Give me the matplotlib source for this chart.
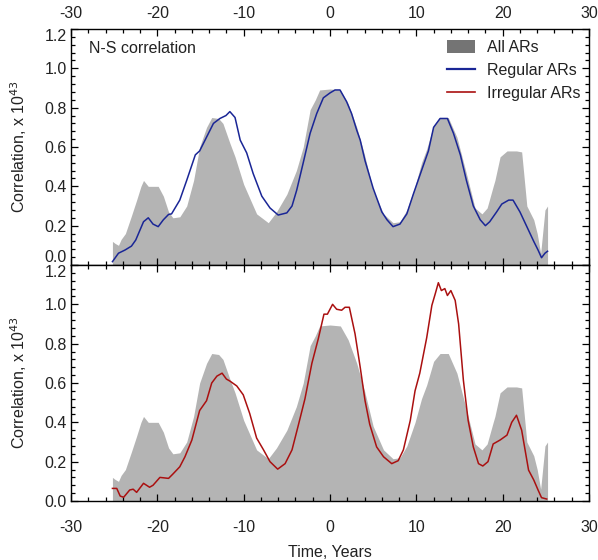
import numpy as np
import matplotlib
matplotlib.use("Agg")
import matplotlib.pyplot as plt
from matplotlib.patches import Patch
from matplotlib.lines import Line2D
from matplotlib.ticker import MultipleLocator, FormatStrFormatter

plt.rcParams['font.family'] = ['Liberation Sans', 'DejaVu Sans']
plt.rcParams['axes.unicode_minus'] = False

# All ARs (gray fill)
all_t = [-25.2, -24.9, -24.5, -24.2, -23.7, -23.0, -22.4, -21.9, -21.6, -21.05, -20.5, -19.9,
         -19.3, -18.7, -18.2, -17.4, -16.6, -15.8, -15.1, -14.3, -13.7, -12.9, -12.4, -11.6,
         -11.0, -10.0, -8.5, -7.15, -6.2, -5.0, -3.9, -3.1, -2.3, -1.7, -1.2, 0.0, 1.2, 2.1,
         3.1, 4.0, 5.0, 6.2, 7.3, 8.1, 8.9, 9.85, 10.6, 11.2, 12.0, 12.75, 13.7, 14.7, 15.8,
         16.8, 17.6, 18.2, 18.9, 19.1, 19.7, 20.5, 21.6, 22.2, 22.8, 23.6, 24.0, 24.4, 24.9, 25.2]
all_v = [0.12, 0.11, 0.10, 0.13, 0.16, 0.25, 0.33, 0.40, 0.43, 0.40, 0.40, 0.40,
         0.35, 0.27, 0.24, 0.245, 0.30, 0.43, 0.60, 0.70, 0.75, 0.745, 0.72, 0.62,
         0.55, 0.41, 0.26, 0.215, 0.27, 0.36, 0.48, 0.60, 0.79, 0.84, 0.89, 0.895, 0.89, 0.82,
         0.70, 0.56, 0.38, 0.26, 0.215, 0.22, 0.28, 0.40, 0.52, 0.59, 0.71, 0.75, 0.75, 0.65, 0.465,
         0.29, 0.26, 0.29, 0.40, 0.43, 0.55, 0.58, 0.58, 0.575, 0.30, 0.23, 0.16, 0.06, 0.28, 0.30]

# Regular ARs (blue)
reg_t = [-25.2, -24.5, -23.75, -23.0, -22.5, -21.6, -21.05, -20.5, -19.9, -19.3, -18.7, -18.35,
         -17.4, -16.6, -15.6, -15.1, -14.3, -13.5, -12.75, -12.05, -11.6, -11.0, -10.4, -9.65,
         -8.9, -7.9, -6.95, -6.0, -5.0, -4.4, -3.86, -3.1, -2.3, -1.54, -0.77, 0.0, 0.58, 1.16,
         1.93, 2.5, 3.1, 3.5, 4.06, 5.0, 6.0, 6.6, 7.3, 8.1, 8.9, 9.65, 10.6, 11.4, 12.0, 12.75,
         13.6, 14.3, 15.1, 15.8, 16.6, 17.4, 18.0, 18.5, 19.3, 19.9, 20.7, 21.2, 22.0, 22.8,
         23.6, 24.1, 24.5, 24.9, 25.2]
reg_v = [0.017, 0.06, 0.076, 0.096, 0.127, 0.22, 0.24, 0.208, 0.195, 0.23, 0.257, 0.26,
         0.33, 0.43, 0.56, 0.58, 0.65, 0.72, 0.745, 0.76, 0.78, 0.75, 0.635, 0.57,
         0.465, 0.35, 0.29, 0.254, 0.265, 0.30, 0.38, 0.52, 0.67, 0.77, 0.85, 0.875, 0.89, 0.89,
         0.83, 0.77, 0.685, 0.635, 0.53, 0.39, 0.27, 0.23, 0.195, 0.208, 0.26, 0.36, 0.48, 0.58, 0.70, 0.745,
         0.745, 0.67, 0.56, 0.43, 0.30, 0.23, 0.20, 0.22, 0.27, 0.31, 0.33, 0.33, 0.27, 0.195,
         0.12, 0.076, 0.037, 0.06, 0.07]

# Irregular ARs (red)
irr_t = [-25.2, -24.7, -24.3, -23.9, -23.2, -22.8, -22.4, -21.6, -20.9, -20.5, -19.7, -18.7,
         -18.2, -17.4, -16.8, -16.0, -15.1, -14.3, -13.7, -13.1, -12.5, -12.0, -11.6, -10.8,
         -10.05, -9.3, -8.5, -7.7, -6.95, -6.06, -5.2, -4.4, -3.67, -2.9, -2.1, -1.35, -0.7,
         -0.3, 0.3, 0.77, 1.35, 1.74, 2.24, 2.9, 3.5, 4.06, 4.6, 5.4, 6.2, 7.15, 7.9, 8.5, 9.3,
         9.85, 10.4, 11.2, 11.8, 12.2, 12.55, 12.9, 13.3, 13.6, 14.0, 14.5, 14.9, 15.45, 16.0,
         16.6, 17.2, 17.7, 18.3, 18.9, 19.7, 20.5, 21.05, 21.6, 22.2, 23.0, 23.6, 24.1, 24.5, 25.1]
irr_v = [0.064, 0.064, 0.025, 0.019, 0.056, 0.06, 0.044, 0.09, 0.07, 0.08, 0.12, 0.115,
         0.137, 0.174, 0.225, 0.31, 0.46, 0.51, 0.60, 0.635, 0.65, 0.62, 0.61, 0.585,
         0.54, 0.445, 0.32, 0.26, 0.20, 0.162, 0.19, 0.26, 0.385, 0.52, 0.70, 0.826, 0.95,
         0.95, 1.00, 0.975, 0.97, 0.985, 0.985, 0.85, 0.68, 0.51, 0.39, 0.275, 0.225, 0.19, 0.205, 0.26, 0.41,
         0.56, 0.65, 0.83, 0.995, 1.055, 1.11, 1.07, 1.08, 1.045, 1.07, 1.02, 0.90, 0.614, 0.41,
         0.275, 0.19, 0.178, 0.20, 0.29, 0.31, 0.335, 0.40, 0.436, 0.36, 0.157, 0.107, 0.056, 0.017, 0.01]

GRAY = '#b4b4b4'
BLUE = '#1a2696'
RED = '#aa1010'
FS = 11.5

fig = plt.figure(figsize=(5.98, 5.60), dpi=100)
W, H = 598, 560
left, right = 71 / W, 589 / W
ax1 = fig.add_axes([left, 1 - 265 / H, right - left, (265 - 29) / H])
ax2 = fig.add_axes([left, 1 - 501 / H, right - left, (501 - 265) / H])

for ax in (ax1, ax2):
    ax.fill_between(all_t, 0, all_v, color=GRAY, linewidth=0)
    ax.set_xlim(-30, 30)
    ax.set_ylim(0, 1.2)
    ax.xaxis.set_major_locator(MultipleLocator(10))
    ax.xaxis.set_minor_locator(MultipleLocator(2))
    ax.yaxis.set_major_locator(MultipleLocator(0.2))
    ax.yaxis.set_minor_locator(MultipleLocator(0.04))
    ax.yaxis.set_major_formatter(FormatStrFormatter('%.1f'))
    ax.tick_params(which='both', direction='in', top=True, right=True, width=0.9,
                   labelsize=FS, colors='black', labelcolor='#222222')
    ax.tick_params(which='major', length=5)
    ax.tick_params(which='minor', length=3)
    ax.tick_params(axis='y', pad=3)
    for s in ax.spines.values():
        s.set_linewidth(1.0)
    ax.set_ylabel(r'Correlation, x 10$^{43}$', fontsize=FS, color='#222222')
    ax.yaxis.set_label_coords(-0.082, 0.5)

ax1.plot(reg_t, reg_v, color=BLUE, lw=1.1)
ax2.plot(irr_t, irr_v, color=RED, lw=1.1)

ax1.tick_params(axis='x', labelbottom=False, labeltop=True, pad=6)
ax2.tick_params(axis='x', labelbottom=True, labeltop=False, pad=14)
ax2.set_xlabel('Time, Years', fontsize=FS, color='#222222', labelpad=7)

fig.canvas.draw()
for ax, bottom_va in ((ax1, 'bottom'), (ax2, 'center_baseline')):
    labs = ax.get_yticklabels()
    for lab in labs:
        txt = lab.get_text()
        if txt == '1.2':
            lab.set_va('top')
        elif txt == '0.0':
            lab.set_va(bottom_va)

ax1.text(0.035, 0.95, 'N-S correlation', transform=ax1.transAxes, fontsize=FS,
         color='#222222', va='top', ha='left')

handles = [Patch(facecolor='#747474', edgecolor='none'),
           Line2D([], [], color=BLUE, lw=1.6),
           Line2D([], [], color=RED, lw=1.2)]
ax1.legend(handles, ['All ARs', 'Regular ARs', 'Irregular ARs'], loc='upper left',
           bbox_to_anchor=(0.7, 1.012), frameon=False, fontsize=FS,
           handlelength=1.75, handleheight=0.9, handletextpad=0.75, labelspacing=0.5,
           borderpad=0.35, labelcolor='#222222')

fig.savefig('out.png', dpi=100)
